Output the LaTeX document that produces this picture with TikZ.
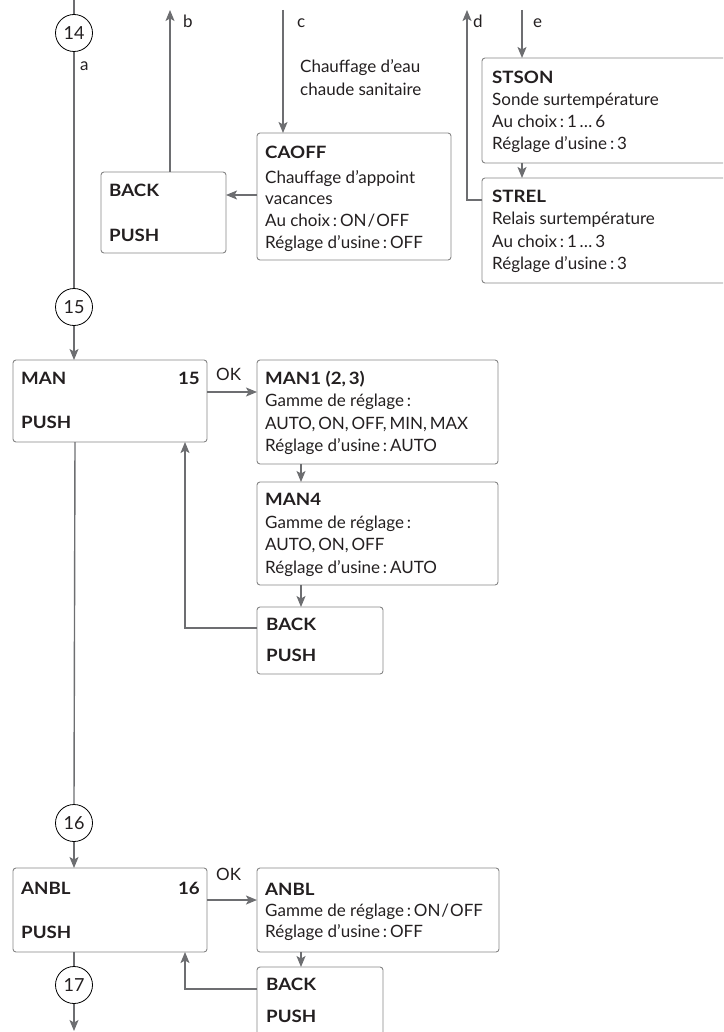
\documentclass[tikz,border=0pt]{standalone}
\usepackage{fontspec}
\setmainfont{Lato}
\newfontfamily\bwide{Lato}[FakeStretch=1.1]
\usetikzlibrary{arrows.meta}
\definecolor{linegray}{HTML}{6D6E71}
\definecolor{boxgray}{HTML}{858585}
\definecolor{txt}{HTML}{231F20}
\begin{document}
\begin{tikzpicture}[x=1pt,y=-1pt,
  box/.style={draw=boxgray,line width=0.9pt,rounded corners=3pt},
  conn/.style={draw=linegray,line width=1.4pt},
  arr/.style={conn,-{Stealth[length=11pt,width=9pt,inset=2.5pt]}},
  num/.style={circle,draw=black,line width=0.8pt,minimum size=37pt,inner sep=0pt,font=\fontsize{18}{18}\selectfont,text=txt},
  tx/.style={anchor=mid west,inner sep=0pt,text=txt,font=\fontsize{17}{17}\selectfont},
  bt/.style={anchor=mid west,inner sep=0pt,text=txt,font=\bwide\bfseries\fontsize{17}{18}\selectfont},
  lab/.style={anchor=mid west,inner sep=0pt,text=txt,font=\fontsize{17}{17}\selectfont}
]
\useasboundingbox (0,0) rectangle (723,1032);
\clip (0,0) rectangle (723,1032);

% circles
\node[num] (c14) at (74,33) {14};
\node[num] (c15) at (74,307) {15};
\node[num] (c16) at (74,823) {16};
\node[num] (c17) at (74,985) {17};
\coordinate (top14) at (74,0);
\coordinate (bot17) at (74,1031);

% boxes
\node[inner sep=0,minimum width=125pt,minimum height=81pt,anchor=north west] (bA) at (101,172) {};
\path[box] (101,172) rectangle (226,253);
\node[inner sep=0,minimum width=194pt,minimum height=127pt,anchor=north west] (caoff) at (257,133) {};
\path[box] (257,133) rectangle (451,260);
\node[inner sep=0,minimum width=260pt,minimum height=105pt,anchor=north west] (stson) at (482,58) {};
\path[box] (482,58) rectangle (745,163);
\node[inner sep=0,minimum width=260pt,minimum height=105pt,anchor=north west] (strel) at (482,178) {};
\path[box] (482,178) rectangle (745,283);

\node[inner sep=0,minimum width=194pt,minimum height=82pt,anchor=north west] (man) at (13,360) {};
\path[box] (13,360) rectangle (207,442);
\node[inner sep=0,minimum width=241pt,minimum height=104pt,anchor=north west] (man1) at (257,360) {};
\path[box] (257,360) rectangle (498,464);
\node[inner sep=0,minimum width=241pt,minimum height=103pt,anchor=north west] (man4) at (257,482) {};
\path[box] (257,482) rectangle (498,585);
\node[inner sep=0,minimum width=126pt,minimum height=67pt,anchor=north west] (bB) at (257,607) {};
\path[box] (257,607) rectangle (383,674);

\node[inner sep=0,minimum width=194pt,minimum height=84pt,anchor=north west] (anbl) at (13,868) {};
\path[box] (13,868) rectangle (207,952);
\node[inner sep=0,minimum width=242pt,minimum height=84pt,anchor=north west] (anbl2) at (257,868) {};
\path[box] (257,868) rectangle (499,952);
\node[inner sep=0,minimum width=126pt,minimum height=90pt,anchor=north west] (bC) at (257,967) {};
\path[box] (257,967) rectangle (383,1057);

% connectors main column
\draw[conn] (top14) -- (c14.north);
\draw[conn] (c14.south) -- (c15.north);
\draw[arr] (c15.south) -- (74,360);
\draw[conn] (75,442) -- (c16.north);
\draw[arr] (c16.south) -- (74,868);
\draw[conn] (74,952) -- (c17.north);
\draw[arr] (c17.south) -- (bot17);

% top section
\coordinate (bTip) at (170,10);
\coordinate (cStart) at (283,10);
\coordinate (dTip) at (467,10);
\coordinate (eStart) at (522,10);
\draw[arr] (170,172) -- (bTip);
\draw[arr] (cStart) -- (283,133);
\draw[arr] (257,195) -- (226,195);
\draw[arr] (482,200) -- (467,200) -- (dTip);
\draw[arr] (eStart) -- (522,58);
\draw[arr] (522,163) -- (522,178);

% MAN section
\draw[arr] (207,392) -- (257,392);
\draw[arr] (301,464) -- (301,482);
\draw[arr] (301,585) -- (301,607);
\draw[arr] (257,628) -- (185,628) -- (185,442);

% ANBL section
\draw[arr] (207,900) -- (257,900);
\draw[arr] (301,952) -- (301,967);
\draw[arr] (257,989) -- (185,989) -- (185,952);

% labels
\node[lab] (la) at (80,68) {a};
\node[lab] (lb) at (183,25) {b};
\node[lab] (lc) at (297,25) {c};
\node[lab] (ld) at (473,25) {d};
\node[lab] (le) at (533,25) {e};
\node[tx] (dhw1) at (300,70) {Chauffage d’eau};
\node[tx] (dhw2) at (300,93) {chaude sanitaire};
\node[lab] (ok1) at (216,378) {OK};
\node[lab] (ok2) at (216,878) {OK};

% texts
\node[bt] (tBA1) at (109,194) {BACK};
\node[bt] (tBA2) at (109,239) {PUSH};

\node[bt] (tC0) at (265,156) {CAOFF};
\node[tx] (tC1) at (265,181) {Chauffage d’appoint};
\node[tx] (tC2) at (265,202) {vacances};
\node[tx] (tC3) at (265,224) {Au choix\,:\,ON\kern1pt/\kern1pt OFF};
\node[tx] (tC4) at (265,246) {Réglage d’usine\,:\,OFF};

\node[bt] (tS0) at (492,81) {STSON};
\node[tx] (tS1) at (492,103) {Sonde surtempérature};
\node[tx] (tS2) at (492,125) {Au choix\,:\,1\,…\,6};
\node[tx] (tS3) at (492,147) {Réglage d’usine\,:\,3};

\node[bt] (tR0) at (492,200) {STREL};
\node[tx] (tR1) at (492,222) {Relais surtempérature};
\node[tx] (tR2) at (492,245) {Au choix\,:\,1\,…\,3};
\node[tx] (tR3) at (492,267) {Réglage d’usine\,:\,3};

\node[bt] (tM0) at (21,382) {MAN};
\node[bt,anchor=mid east] (tM1) at (200,382) {15};
\node[bt] (tM2) at (21,426) {PUSH};

\node[bt] (t10) at (265,382) {MAN1 (2,\,3)};
\node[tx] (t11) at (265,404) {Gamme de réglage\,:};
\node[tx] (t12) at (265,427) {AUTO,\,ON,\,OFF,\,MIN,\,MAX};
\node[tx] (t13) at (265,449) {Réglage d’usine\,:\,AUTO};

\node[bt] (t40) at (265,503) {MAN4};
\node[tx] (t41) at (265,526) {Gamme de réglage\,:};
\node[tx] (t42) at (265,548) {AUTO,\,ON,\,OFF};
\node[tx] (t43) at (265,571) {Réglage d’usine\,:\,AUTO};

\node[bt] (tBB1) at (266,628) {BACK};
\node[bt] (tBB2) at (266,659) {PUSH};

\node[bt] (tA0) at (21,892) {ANBL};
\node[bt,anchor=mid east] (tA1) at (200,892) {16};
\node[bt] (tA2) at (21,936) {PUSH};

\node[bt] (tN0) at (265,893) {ANBL};
\node[tx] (tN1) at (265,914) {Gamme de réglage\,:\,ON\kern1pt/\kern1pt OFF};
\node[tx] (tN2) at (265,935) {Réglage d’usine\,:\,OFF};

\node[bt] (tBC1) at (266,988) {BACK};
\node[bt] (tBC2) at (266,1020) {PUSH};
\end{tikzpicture}
\end{document}
